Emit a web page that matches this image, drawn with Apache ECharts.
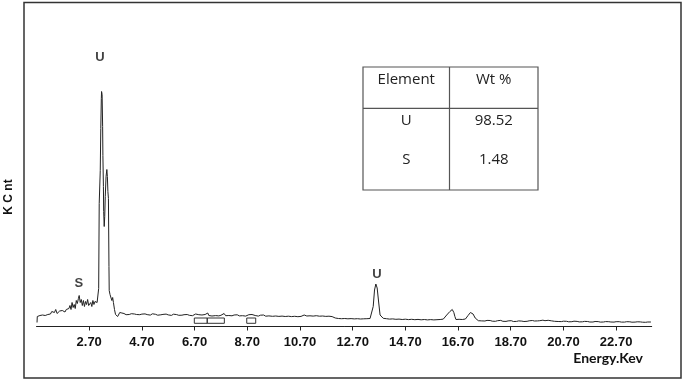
<!DOCTYPE html>
<html>
<head>
<meta charset="utf-8">
<script src="https://cdn.jsdelivr.net/npm/echarts@6/dist/echarts.min.js"></script>
<style>
html,body{margin:0;padding:0;background:#fff;}
#chart{width:685px;height:381px;}
</style>
</head>
<body>
<div id="chart"></div>
<script>
// Energy (keV) and counts
const spectrum = [
[0.72,40],[0.73,100],[0.78,95],[0.83,110],[0.88,100],[0.93,115],[0.98,120],[1.03,110],[1.08,130],[1.13,120],
[1.18,135],[1.23,125],[1.28,150],[1.33,130],[1.38,140],[1.43,170],[1.48,130],[1.53,140],[1.58,155],[1.63,140],
[1.68,160],[1.73,150],[1.78,145],[1.83,170],[1.88,150],[1.93,180],[1.97,210],[2.01,170],[2.05,240],[2.09,190],
[2.13,220],[2.17,180],[2.21,260],[2.25,230],[2.29,280],[2.32,310],[2.36,240],[2.40,270],[2.44,210],[2.48,260],
[2.52,200],[2.56,250],[2.60,220],[2.64,270],[2.68,210],[2.72,190],[2.76,240],[2.80,200],[2.84,260],[2.88,220],
[2.92,250],[2.96,230],[3.00,240],[3.03,220],[3.05,250],[3.06,380],[3.08,1230],[3.10,1250],[3.12,1560],[3.14,1980],
[3.16,2280],[3.17,2350],[3.19,2320],[3.21,2000],[3.22,1710],[3.24,1400],[3.25,1150],[3.27,1000],[3.29,1100],[3.31,1300],
[3.34,1500],[3.37,1570],[3.39,1500],[3.41,1350],[3.43,1280],[3.45,600],[3.46,360],[3.49,320],[3.53,330],[3.56,260],
[3.59,290],[3.62,240],[3.66,170],[3.70,120],[3.74,110],[3.78,100],[3.82,120],[3.86,140],[3.90,120],[3.94,135],
[3.98,115],[4.02,130],[4.10,118],[4.16,135],[4.22,120],[4.30,128],[4.36,115],[4.42,125],[4.50,120],[4.56,132],
[4.62,118],[4.70,124],[4.76,112],[4.82,126],[4.90,119],[4.96,123],[5.02,114],[5.10,127],[5.16,118],[5.22,122],
[5.30,113],[5.36,125],[5.42,117],[5.50,121],[5.56,112],[5.62,124],[5.70,116],[5.76,120],[5.82,111],[5.90,123],
[5.96,115],[6.02,119],[6.10,112],[6.16,121],[6.22,113],[6.30,118],[6.36,109],[6.42,120],[6.50,112],[6.56,117],
[6.62,108],[6.68,95],[6.74,125],[6.80,112],[6.86,118],[6.92,104],[6.98,115],[7.04,110],[7.10,120],[7.16,108],
[7.20,135],[7.24,110],[7.30,116],[7.36,105],[7.42,114],[7.50,109],[7.56,118],[7.62,106],[7.70,112],[7.76,125],
[7.82,130],[7.88,108],[7.94,116],[8.00,110],[8.06,118],[8.12,107],[8.20,115],[8.26,109],[8.32,117],[8.40,106],
[8.46,113],[8.52,108],[8.58,116],[8.64,104],[8.70,112],[8.76,118],[8.82,106],[8.88,120],[8.94,130],[9.00,110],
[9.06,112],[9.12,104],[9.20,113],[9.26,107],[9.32,115],[9.40,103],[9.46,111],[9.52,106],[9.58,114],[9.66,102],
[9.72,110],[9.78,105],[9.84,113],[9.90,101],[9.96,109],[10.02,104],[10.08,112],[10.14,100],[10.20,108],[10.26,103],
[10.32,111],[10.38,99],[10.44,107],[10.50,102],[10.56,110],[10.62,98],[10.68,106],[10.74,101],[10.80,109],[10.86,115],
[10.90,97],[10.96,105],[11.02,100],[11.08,107],[11.14,96],[11.20,104],[11.26,99],[11.32,108],[11.38,95],[11.44,103],
[11.50,97],[11.56,105],[11.62,94],[11.68,101],[11.74,96],[11.80,103],[11.86,92],[11.92,99],[11.98,93],[12.04,85],
[12.10,92],[12.16,80],[12.22,88],[12.28,78],[12.34,86],[12.40,80],[12.46,90],[12.52,77],[12.58,85],[12.64,79],
[12.70,87],[12.76,76],[12.82,84],[12.88,78],[12.94,86],[13.00,75],[13.06,83],[13.12,77],[13.18,85],[13.24,78],
[13.30,84],[13.36,80],[13.42,100],[13.48,200],[13.53,365],[13.58,425],[13.63,385],[13.69,235],[13.74,115],[13.80,100],
[13.86,82],[13.92,90],[13.98,78],[14.04,86],[14.10,74],[14.16,82],[14.22,76],[14.28,84],[14.34,72],[14.40,80],
[14.46,74],[14.52,82],[14.58,70],[14.64,78],[14.70,73],[14.76,81],[14.82,69],[14.88,77],[14.94,72],[15.00,80],
[15.06,68],[15.12,76],[15.18,71],[15.24,79],[15.30,67],[15.36,75],[15.42,70],[15.48,78],[15.54,66],[15.60,74],
[15.66,69],[15.72,77],[15.78,66],[15.84,72],[15.90,68],[15.96,76],[16.02,70],[16.08,78],[16.14,74],[16.20,90],
[16.27,115],[16.33,130],[16.39,150],[16.44,165],[16.48,170],[16.54,140],[16.58,100],[16.62,70],[16.68,66],[16.74,72],
[16.80,64],[16.86,70],[16.92,68],[16.98,75],[17.03,85],[17.08,110],[17.12,130],[17.17,140],[17.22,142],[17.27,125],
[17.30,110],[17.35,85],[17.41,65],[17.47,58],[17.53,64],[17.60,56],[17.66,62],[17.72,55],[17.80,61],[17.86,54],
[17.92,60],[18.00,53],[18.06,59],[18.12,52],[18.20,58],[18.26,55],[18.32,61],[18.40,52],[18.46,57],[18.52,51],
[18.60,56],[18.66,52],[18.72,58],[18.80,50],[18.86,55],[18.92,51],[19.00,56],[19.06,49],[19.12,54],[19.20,50],
[19.26,55],[19.32,52],[19.40,57],[19.46,53],[19.52,60],[19.60,55],[19.66,62],[19.72,56],[19.80,58],[19.86,54],
[19.92,63],[20.00,58],[20.06,75],[20.12,62],[20.18,68],[20.24,57],[20.30,60],[20.36,52],[20.42,56],[20.50,50],
[20.56,54],[20.62,49],[20.70,53],[20.76,48],[20.82,52],[20.90,47],[20.96,52],[21.02,48],[21.10,53],[21.16,47],
[21.22,51],[21.30,46],[21.36,58],[21.42,47],[21.50,51],[21.56,46],[21.62,50],[21.70,45],[21.76,49],[21.82,45],
[21.90,50],[21.96,46],[22.02,49],[22.10,44],[22.16,48],[22.22,45],[22.30,49],[22.36,44],[22.42,48],[22.50,45],
[22.56,49],[22.62,44],[22.70,48],[22.76,45],[22.82,48],[22.90,44],[22.96,47],[23.02,44],[23.10,48],[23.16,44],
[23.22,47],[23.30,43],[23.36,47],[23.42,44],[23.50,47],[23.56,43],[23.62,46],[23.70,43],[23.76,46],[23.82,42],
[23.90,45],[23.96,43],[24.02,45]
];

// x-axis tick labels (keV)
const tickValues = [2.7, 4.7, 6.7, 8.7, 10.7, 12.7, 14.7, 16.7, 18.7, 20.7, 22.7];

// peak annotations: [keV, counts, element]
const peakLabels = [[3.11, 2695, 'U'], [2.31, 435, 'S'], [13.62, 525, 'U']];

// ROI marker boxes: [startKeV, endKeV, bottom, top]
const roiBoxes = [[6.69, 7.18, 32, 85], [7.18, 7.83, 32, 85], [8.68, 9.02, 32, 85]];

// composition table
const tableHeader = ['Element', 'Wt %'];
const tableRows = [['U', '98.52'], ['S', '1.48']];

const axisTitleX = 'Energy.Kev';
const axisTitleY = 'K C nt';

const chart = echarts.init(document.getElementById('chart'), null, {renderer: 'canvas'});

const tableX = 363, tableY = 67, colW = [86.5, 88.5], tableH = 123, headH = 41.3;
const rowYs = [80, 121, 160];
const tableGraphics = [
  {type: 'rect', shape: {x: tableX, y: tableY, width: colW[0] + colW[1], height: tableH},
   style: {fill: 'none', stroke: '#555', lineWidth: 1.2}},
  {type: 'line', shape: {x1: tableX, y1: tableY + headH, x2: tableX + colW[0] + colW[1], y2: tableY + headH},
   style: {stroke: '#555', lineWidth: 1.2}},
  {type: 'line', shape: {x1: tableX + colW[0], y1: tableY, x2: tableX + colW[0], y2: tableY + tableH},
   style: {stroke: '#555', lineWidth: 1.2}}
];
const allRows = [tableHeader].concat(tableRows);
allRows.forEach((row, ri) => {
  row.forEach((cell, ci) => {
    const cx = tableX + (ci === 0 ? colW[0] / 2 : colW[0] + colW[1] / 2);
    tableGraphics.push({type: 'text', x: cx, y: rowYs[ri],
      style: {text: cell, fill: '#222', font: '15px "Open Sans"', align: 'center', verticalAlign: 'middle'}});
  });
});

chart.setOption({
  animation: false,
  backgroundColor: '#fff',
  grid: {left: 36.5, right: 33.3, top: 26.5, bottom: 54.5, containLabel: false},
  xAxis: {
    type: 'value', min: 0.7, max: 24.05,
    axisLine: {show: true, lineStyle: {color: '#222', width: 1}},
    axisTick: {show: true, customValues: tickValues, length: 4, lineStyle: {color: '#222'}},
    axisLabel: {show: true, customValues: tickValues, formatter: v => v.toFixed(2), margin: 9,
      color: '#111', fontSize: 13, fontWeight: 'bold', fontFamily: '"Liberation Sans Narrow", "Liberation Sans", sans-serif'},
    splitLine: {show: false}
  },
  yAxis: {type: 'value', min: 0, max: 3000, show: false},
  series: [
    {
      type: 'line', data: spectrum, showSymbol: false, symbol: 'none',
      lineStyle: {color: '#222', width: 1}, silent: true,
      markArea: {
        silent: true,
        itemStyle: {color: 'rgba(0,0,0,0)', borderColor: '#333', borderWidth: 1},
        data: roiBoxes.map(b => [{xAxis: b[0], yAxis: b[2]}, {xAxis: b[1], yAxis: b[3]}])
      }
    },
    {
      type: 'scatter', data: peakLabels, symbolSize: 1, itemStyle: {color: 'rgba(0,0,0,0)'}, silent: true,
      label: {show: true, position: 'inside', formatter: p => p.data[2], color: '#111',
        fontSize: 13, fontWeight: 'bold', fontFamily: '"Liberation Sans", Arial, sans-serif'}
    }
  ],
  graphic: [
    {type: 'rect', shape: {x: 24, y: 2.5, width: 657, height: 375.5},
     style: {fill: 'none', stroke: '#333', lineWidth: 1.5}, silent: true},
    {type: 'text', x: 643, y: 358,
     style: {text: axisTitleX, fill: '#111', font: 'bold 14px Lato', align: 'right', verticalAlign: 'middle'}},
    {type: 'text', x: 9, y: 197, rotation: Math.PI / 2,
     style: {text: axisTitleY, fill: '#111', font: 'bold 12px "Liberation Sans"', align: 'center', verticalAlign: 'middle'}}
  ].concat(tableGraphics)
});
</script>
</body>
</html>
